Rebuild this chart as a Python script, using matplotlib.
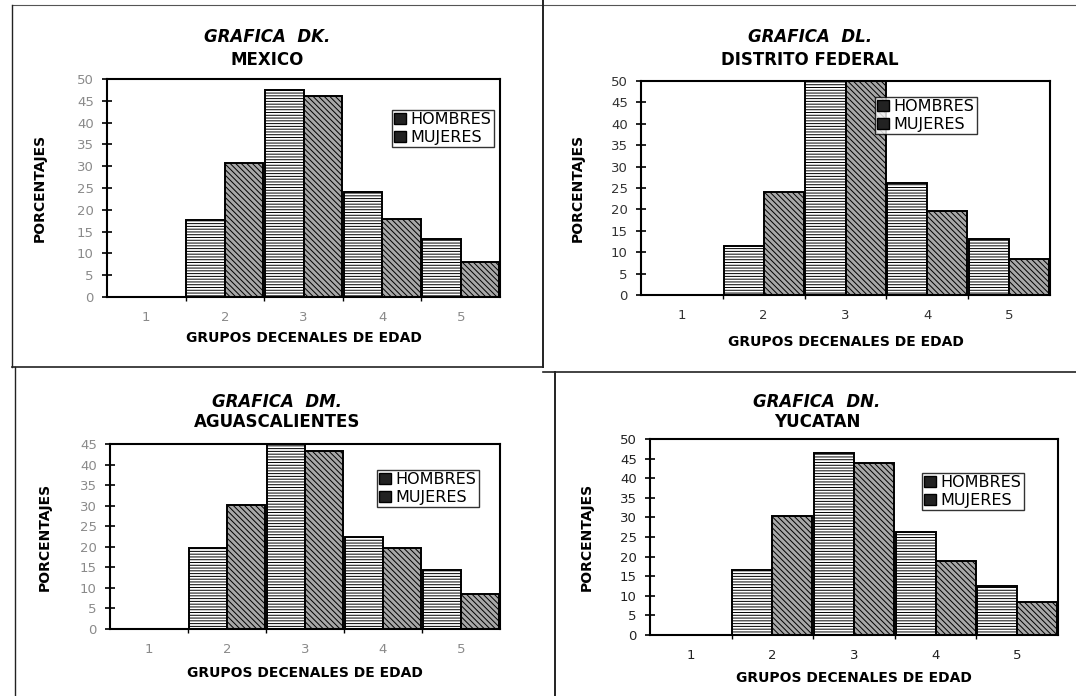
import matplotlib
matplotlib.use("Agg")
import matplotlib.pyplot as plt
from matplotlib.patches import Patch
from matplotlib.lines import Line2D

plt.rcParams['font.family'] = ['DejaVu Sans']
plt.rcParams['hatch.linewidth'] = 0.7

# ---- data ----
categories = [1, 2, 3, 4, 5]
series_names = ["HOMBRES", "MUJERES"]

mexico_h = [0, 17.7, 47.5, 24.0, 13.3]
mexico_m = [0, 30.7, 46.0, 18.0, 8.0]

df_h = [0, 11.5, 52.0, 26.2, 13.2]
df_m = [0, 24.1, 51.0, 19.6, 8.3]

ags_h = [0, 19.6, 45.5, 22.5, 14.3]
ags_m = [0, 30.1, 43.4, 19.6, 8.6]

yuc_h = [0, 16.5, 46.4, 26.4, 12.5]
yuc_m = [0, 30.3, 43.9, 19.0, 8.3]

titles1 = ["GRAFICA  DK.", "GRAFICA  DL.", "GRAFICA  DM.", "GRAFICA  DN."]
titles2 = ["MEXICO", "DISTRITO FEDERAL", "AGUASCALIENTES", "YUCATAN"]
ymaxes = [50, 50, 45, 50]
ylabel = "PORCENTAJES"
xlabel = "GRUPOS DECENALES DE EDAD"

W, H = 1076, 696
fig = plt.figure(figsize=(W / 100, H / 100), dpi=100)
fig.patch.set_facecolor("white")

def px_axes(l, t, r, b):
    return fig.add_axes([l / W, 1 - b / H, (r - l) / W, (b - t) / H])

# axes boxes in pixel coords (left, top, right, bottom)
boxes = [(107, 79, 500, 297), (641, 81, 1050, 295),
         (110, 444, 500, 629), (650, 439, 1058, 635)]
# title centers (x, y_line1, y_line2), ylabel x, xlabel y
title_pos = [(267, 37, 60), (810, 37, 60), (277, 402, 422), (817, 402, 422)]
ylab_x = [40, 578, 45, 587]
xlab_y = [338, 342, 673, 678]
leg_pos = [(392, 110), (875, 97), (377, 470), (922, 473)]
tick_colors = ["#8a8a8a", "#333333", "#8a8a8a", "#222222"]

data = [(mexico_h, mexico_m), (df_h, df_m), (ags_h, ags_m), (yuc_h, yuc_m)]

w = 0.49
for i in range(4):
    ax = px_axes(*boxes[i])
    hv, mv = data[i]
    ax.bar([c - w / 2 for c in categories], hv, width=w, facecolor="white",
           edgecolor="black", linewidth=1.4, hatch="------", zorder=2)
    ax.bar([c + w / 2 for c in categories], mv, width=w, facecolor="#a8a8a8",
           edgecolor="black", linewidth=1.4, hatch="\\\\\\\\\\\\", zorder=2)
    ax.set_xlim(0.5, 5.5)
    ax.set_ylim(0, ymaxes[i])
    ax.set_yticks(range(0, ymaxes[i] + 1, 5))
    ax.set_xticks(categories)
    ax.set_xticks([1.5, 2.5, 3.5, 4.5], minor=True)
    ax.tick_params(axis="y", direction="inout", length=7, width=1.2,
                   labelsize=9.5, labelcolor=tick_colors[i], pad=6)
    ax.tick_params(axis="x", which="major", length=0, labelsize=9.5,
                   labelcolor=tick_colors[i], pad=10)
    ax.tick_params(axis="x", which="minor", direction="out", length=3, width=1)
    for s in ax.spines.values():
        s.set_linewidth(1.5)
    handles = [Patch(facecolor="#222222", edgecolor="black", label=series_names[0]),
               Patch(facecolor="#222222", edgecolor="black", label=series_names[1])]
    lx, ly = leg_pos[i]
    leg = fig.legend(handles=handles, loc="upper left",
                     bbox_to_anchor=(lx / W, 1 - ly / H),
                     fontsize=11.5, frameon=True, fancybox=False,
                     handlelength=0.7, handleheight=0.7, handletextpad=0.3,
                     borderpad=0.15, labelspacing=0.15, borderaxespad=0)
    leg.get_frame().set_edgecolor("black")
    leg.get_frame().set_linewidth(1.0)
    tx, ty1, ty2 = title_pos[i]
    fig.text(tx / W, 1 - ty1 / H, titles1[i], ha="center", va="center",
             fontsize=12, fontweight="bold", fontstyle="italic")
    fig.text(tx / W, 1 - ty2 / H, titles2[i], ha="center", va="center",
             fontsize=12, fontweight="bold")
    cx = (boxes[i][0] + boxes[i][2]) / 2
    cy = (boxes[i][1] + boxes[i][3]) / 2
    fig.text(ylab_x[i] / W, 1 - cy / H, ylabel, rotation=90, ha="center",
             va="center", fontsize=10, fontweight="bold")
    fig.text(cx / W, 1 - xlab_y[i] / H, xlabel, ha="center", va="center",
             fontsize=10, fontweight="bold")

# panel borders (scanned page frames)
def fline(x0, y0, x1, y1, lw=1.2, color="#222222", ls="-"):
    fig.add_artist(Line2D([x0 / W, x1 / W], [1 - y0 / H, 1 - y1 / H],
                          color=color, linewidth=lw, linestyle=ls))

fline(12, 5, 543, 5, lw=0.8, color="#555555")
fline(543, 5, 1076, 5, lw=0.8, color="#555555")
fline(12, 5, 12, 367, lw=1.0)
fline(543, 0, 543, 367, lw=1.4)
fline(12, 367, 543, 367, lw=1.2)
fline(543, 372, 1076, 372, lw=1.2)
fline(15, 367, 15, 696, lw=1.0)
fline(555, 372, 555, 696, lw=1.4)

fig.savefig("out.png", dpi=100, facecolor="white")
